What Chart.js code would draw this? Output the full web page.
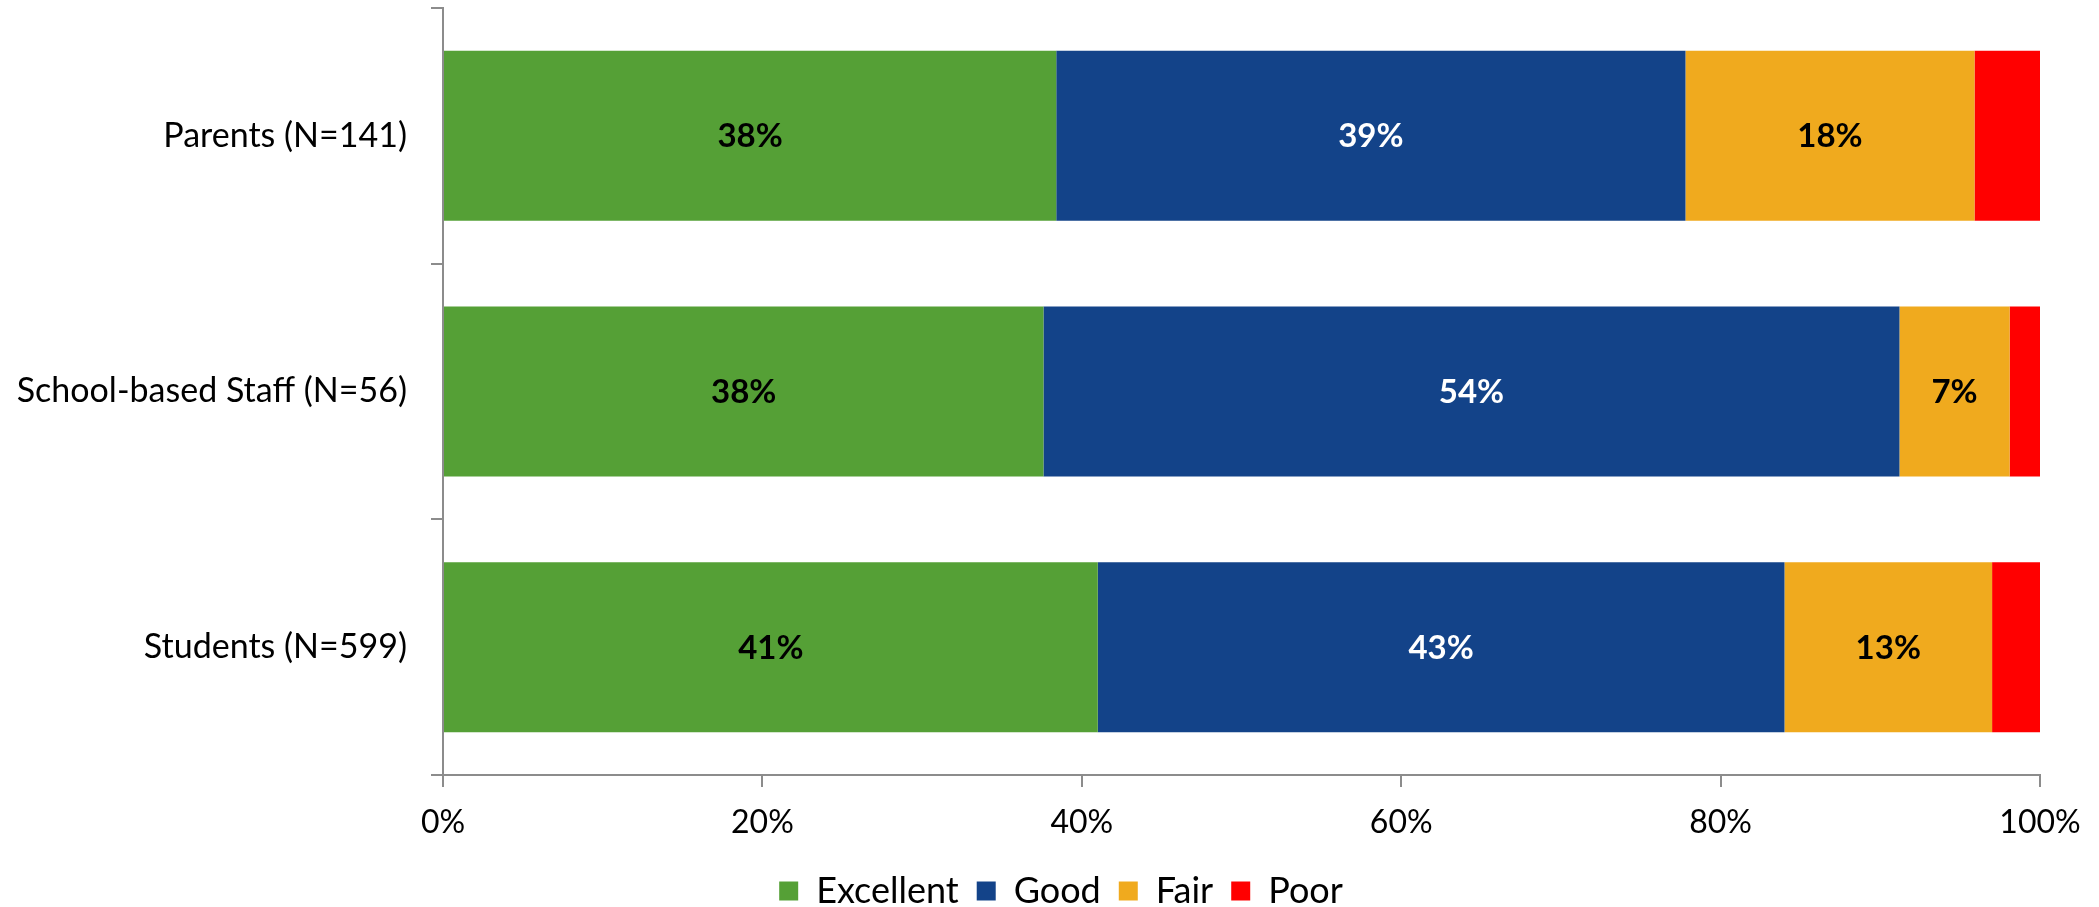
<!DOCTYPE html>
<html>
<head>
<meta charset="utf-8">
<title>Ratings by group</title>
<script src="https://cdn.jsdelivr.net/npm/chart.js@4.4.1/dist/chart.umd.min.js"></script>
<style>
  html, body { margin: 0; padding: 0; background: #fff; }
  #wrap { width: 2099px; height: 907px; }
</style>
</head>
<body>
<div id="wrap"><canvas id="ratingChart" width="2099" height="907"></canvas></div>
<script>
// Data (percent of respondents)
const groups = ['Parents (N=141)', 'School-based Staff (N=56)', 'Students (N=599)'];
const excellent = [38.4, 37.6, 41.0];
const good = [39.4, 53.6, 43.0];
const fair = [18.1, 6.9, 13.0];
const poor = [4.1, 1.9, 3.0];
const xTicks = [0, 20, 40, 60, 80, 100];

const FONT = 'Lato, "Open Sans", sans-serif';
const AXIS_GREY = '#8c8c8c';
const LEGEND_SHIFT = 41; // legend sits a bit right of centre in the original

// draws the rounded % in the middle of each segment (not for Poor)
const segmentLabels = {
  id: 'segmentLabels',
  afterDatasetsDraw(chart) {
    const ctx = chart.ctx;
    ctx.save();
    ctx.font = 'bold 33px ' + FONT;
    ctx.textAlign = 'center';
    ctx.textBaseline = 'middle';
    chart.data.datasets.forEach((ds, i) => {
      if (!ds.showLabel) return;
      const meta = chart.getDatasetMeta(i);
      meta.data.forEach((bar, j) => {
        const cx = (bar.x + bar.base) / 2;
        ctx.fillStyle = ds.labelColor;
        ctx.fillText(Math.round(ds.data[j]) + '%', cx, bar.y + 1);
      });
    });
    ctx.restore();
  }
};

// nudge the legend box sideways after layout
const legendNudge = {
  id: 'legendNudge',
  afterLayout(chart) {
    if (!chart.legend) return;
    chart.legend.left += LEGEND_SHIFT;
    chart.legend.right += LEGEND_SHIFT;
  }
};

const ctx = document.getElementById('ratingChart').getContext('2d');
const chart = new Chart(ctx, {
  type: 'bar',
  data: {
    labels: groups,
    datasets: [
      { label: 'Excellent', data: excellent, backgroundColor: '#55a036', showLabel: true, labelColor: '#000' },
      { label: 'Good', data: good, backgroundColor: '#134389', showLabel: true, labelColor: '#fff' },
      { label: 'Fair', data: fair, backgroundColor: '#f0aa1e', showLabel: true, labelColor: '#000' },
      { label: 'Poor', data: poor, backgroundColor: '#ff0000', showLabel: false }
    ]
  },
  options: {
    indexAxis: 'y',
    responsive: false,
    animation: false,
    layout: { padding: { top: 8, right: 59, left: 0, bottom: -12 } },
    datasets: {
      bar: { barPercentage: 0.665, categoryPercentage: 1.0, borderWidth: 0 }
    },
    scales: {
      x: {
        stacked: true,
        min: 0,
        max: 100,
        afterBuildTicks: (scale) => { scale.ticks = xTicks.map(v => ({ value: v })); },
        afterFit: (scale) => { scale.height = 80; },
        ticks: {
          callback: (v) => v + '%',
          color: '#000',
          font: { family: FONT, size: 32 },
          padding: 16,
          maxRotation: 0
        },
        grid: { drawOnChartArea: false, drawTicks: true, tickLength: 12, color: AXIS_GREY, lineWidth: 2 },
        border: { color: AXIS_GREY, width: 2 }
      },
      y: {
        stacked: true,
        afterFit: (scale) => {
          scale.width = 443;
          // labels sit in the middle of each band, no extra room needed above/below
          scale.paddingTop = 0;
          scale.paddingBottom = 0;
        },
        ticks: {
          color: '#000',
          font: { family: FONT, size: 34 },
          padding: 24
        },
        grid: { drawOnChartArea: false, drawTicks: true, tickLength: 12, color: AXIS_GREY, lineWidth: 2, offset: true },
        border: { color: AXIS_GREY, width: 2 }
      }
    },
    plugins: {
      legend: {
        position: 'bottom',
        labels: {
          boxWidth: 19,
          boxHeight: 19,
          padding: 18,
          color: '#000',
          font: { family: FONT, size: 36 }
        }
      },
      tooltip: { enabled: false }
    }
  },
  plugins: [segmentLabels, legendNudge]
});
</script>
</body>
</html>
